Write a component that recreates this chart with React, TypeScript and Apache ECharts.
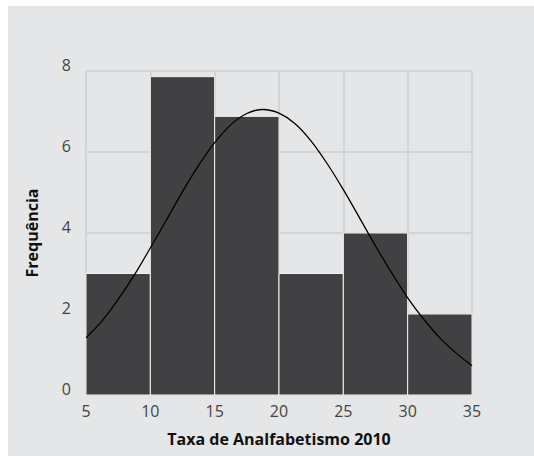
import React, { useEffect, useRef } from "react";
import * as echarts from "echarts";

const BIN_STARTS = [5, 10, 15, 20, 25, 30];
const BIN_ENDS = [10, 15, 20, 25, 30, 35];
const FREQUENCIES = [3, 7.86, 6.88, 3, 4, 2];

const CURVE_X = [5, 6.25, 7.5, 8.75, 10, 11.25, 12.5, 13.75, 15, 16.25, 17.5, 18.75, 20, 21.25, 22.5, 23.75, 25, 26.25, 27.5, 28.75, 30, 31.25, 32.5, 33.75, 35];
const CURVE_Y = [1.41, 1.83, 2.36, 2.96, 3.63, 4.32, 5.02, 5.67, 6.23, 6.67, 6.95, 7.05, 6.96, 6.7, 6.27, 5.71, 5.07, 4.38, 3.68, 3.02, 2.4, 1.87, 1.41, 1.04, 0.72];

const X_TICKS = [5, 10, 15, 20, 25, 30, 35];
const Y_TICKS = [0, 2, 4, 6, 8];

const X_TITLE = "Taxa de Analfabetismo 2010";
const Y_TITLE = "Frequência";

const FONT = "'Open Sans', sans-serif";
const BG = "#e5e6e8";

export default function App() {
  const ref = useRef<HTMLDivElement>(null);

  useEffect(() => {
    if (!ref.current) return;
    document.body.style.overflow = "hidden";
    const chart = echarts.init(ref.current, null, { renderer: "svg" });

    const histData = BIN_STARTS.map((s, i) => [s, BIN_ENDS[i], FREQUENCIES[i]]);
    const curveData = CURVE_X.map((x, i) => [x, CURVE_Y[i]]);

    chart.setOption({
      animation: false,
      backgroundColor: BG,
      grid: { left: 78, right: 96, top: 65, bottom: 81, containLabel: false },
      xAxis: {
        type: "value",
        min: X_TICKS[0],
        max: X_TICKS[X_TICKS.length - 1],
        interval: 5,
        name: X_TITLE,
        nameLocation: "middle",
        nameGap: 36,
        nameTextStyle: { fontFamily: FONT, fontSize: 16, fontWeight: "bold", color: "#111" },
        axisLine: { show: false },
        axisTick: { show: false },
        axisLabel: { margin: 8, fontFamily: FONT, fontSize: 16, color: "#444" },
        splitLine: { show: true, lineStyle: { color: "#d3d4d6", width: 2 } },
      },
      yAxis: {
        type: "value",
        min: Y_TICKS[0],
        max: Y_TICKS[Y_TICKS.length - 1],
        interval: 2,
        name: Y_TITLE,
        nameLocation: "middle",
        nameGap: 46,
        nameTextStyle: { fontFamily: FONT, fontSize: 16, fontWeight: "bold", color: "#111" },
        axisLine: { show: false },
        axisTick: { show: false },
        axisLabel: {
          margin: 15,
          fontFamily: FONT,
          fontSize: 16,
          color: "#444",
          verticalAlign: "bottom",
          lineHeight: 13,
        },
        splitLine: { show: true, lineStyle: { color: "#d3d4d6", width: 2 } },
      },
      series: [
        {
          type: "custom",
          data: histData,
          encode: { x: [0, 1], y: 2 },
          renderItem: (params: any, api: any) => {
            const p0 = api.coord([api.value(0), api.value(2)]);
            const p1 = api.coord([api.value(1), 0]);
            return {
              type: "rect",
              shape: { x: p0[0], y: p0[1], width: p1[0] - p0[0], height: p1[1] - p0[1] },
              style: { fill: "#414143", stroke: "#f2f2f2", lineWidth: 1 },
            };
          },
          z: 2,
        },
        {
          type: "line",
          data: curveData,
          smooth: 0.3,
          showSymbol: false,
          lineStyle: { color: "#000", width: 1.3 },
          z: 3,
        },
      ],
    });

    return () => chart.dispose();
  }, []);

  return (
    <div
      ref={ref}
      style={{ position: "fixed", left: 8, top: 6, width: 560, height: 470, background: BG }}
    />
  );
}
